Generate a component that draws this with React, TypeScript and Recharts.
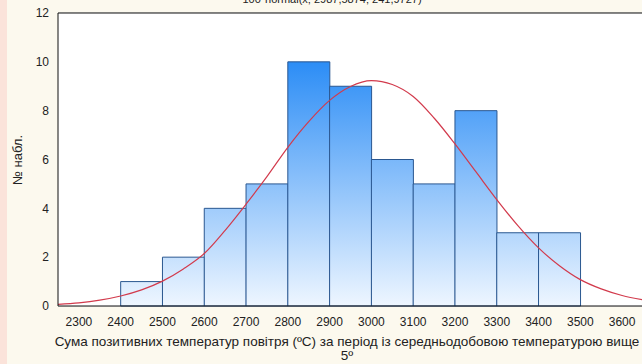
import { ComposedChart, Bar, Line, XAxis, YAxis, CartesianGrid } from "recharts";

// histogram bins (midpoints) and counts
const binMids = [2350, 2450, 2550, 2650, 2750, 2850, 2950, 3050, 3150, 3250, 3350, 3450];
const binCounts = [0, 1, 2, 4, 5, 10, 9, 6, 5, 8, 3, 3];

// fitted normal curve
const curveX = [
  2250, 2300, 2350, 2400, 2450, 2500, 2550, 2600, 2650, 2700, 2750, 2800, 2850, 2900, 2950,
  3000, 3050, 3100, 3150, 3200, 3250, 3300, 3350, 3400, 3450, 3500, 3550, 3600, 3650,
];
const curveY = [
  0.07, 0.13, 0.24, 0.41, 0.66, 1.02, 1.52, 2.15, 3.1, 4.17, 5.3, 6.5, 7.55, 8.42, 8.99,
  9.23, 9.07, 8.58, 7.7, 6.64, 5.5, 4.36, 3.3, 2.38, 1.65, 1.08, 0.7, 0.43, 0.25,
];

const xTicks = [2300, 2400, 2500, 2600, 2700, 2800, 2900, 3000, 3100, 3200, 3300, 3400, 3500, 3600];
const yTicks = [0, 2, 4, 6, 8, 10, 12];
const xDomain = [2250, 3650];

const barData = binMids.map((x, i) => ({ x, count: binCounts[i] }));
const curveData = curveX.map((x, i) => ({ x, curve: curveY[i] }));

const FONT = "'Liberation Sans', Arial, sans-serif";
const CHART_W = 650;
const CHART_H = 364;
const PLOT_LEFT = 58;
const PLOT_TOP = 13;
const PLOT_RIGHT = 643;
const PLOT_BOTTOM = 306;

const tickStyle = { fill: "#222", fontSize: 12, fontFamily: FONT };

export default function App() {
  return (
    <div
      style={{
        position: "absolute",
        left: 0,
        top: 0,
        width: 642,
        height: 364,
        overflow: "hidden",
        background: "#fcf9ee",
        fontFamily: FONT,
      }}
    >
      <div style={{ position: "absolute", left: 0, top: 0, width: 7, height: 364, background: "#fbe3da" }} />

      <div
        style={{
          position: "absolute",
          top: -7,
          left: 0,
          width: 664,
          textAlign: "center",
          fontSize: 11,
          lineHeight: "12px",
          color: "#222",
          whiteSpace: "nowrap",
        }}
      >
        100*normal(x; 2987,5874; 241,9727)
      </div>

      <div style={{ position: "absolute", left: 0, top: 0 }}>
        <ComposedChart
          width={CHART_W}
          height={CHART_H}
          data={barData}
          margin={{ top: PLOT_TOP, right: CHART_W - PLOT_RIGHT, bottom: 0, left: 0 }}
          barCategoryGap={0}
          barGap={0}
        >
          <defs>
            <linearGradient
              id="barFill"
              gradientUnits="userSpaceOnUse"
              x1={0}
              y1={PLOT_TOP}
              x2={0}
              y2={PLOT_BOTTOM}
            >
              <stop offset="0%" stopColor="#0578f4" />
              <stop offset="100%" stopColor="#eef6ff" />
            </linearGradient>
          </defs>
          <rect x={PLOT_LEFT} y={PLOT_TOP} width={PLOT_RIGHT - PLOT_LEFT} height={PLOT_BOTTOM - PLOT_TOP} fill="#fff" />
          <CartesianGrid vertical={false} stroke="#d9d9d9" />
          <XAxis
            xAxisId="main"
            dataKey="x"
            type="number"
            domain={xDomain}
            ticks={xTicks}
            allowDataOverflow
            height={CHART_H - PLOT_BOTTOM}
            tickLine={false}
            tickSize={0}
            tickMargin={11}
            axisLine={{ stroke: "#111" }}
            tick={tickStyle}
            interval={0}
          />
          {/* same scale as main; carries the inward bottom ticks and the curve */}
          <XAxis
            xAxisId="curve"
            dataKey="x"
            type="number"
            domain={xDomain}
            ticks={xTicks}
            allowDataOverflow
            mirror
            height={1}
            tick={false}
            tickSize={4}
            axisLine={false}
            tickLine={{ stroke: "#111" }}
          />
          <XAxis
            xAxisId="top"
            orientation="top"
            dataKey="x"
            type="number"
            domain={xDomain}
            ticks={xTicks}
            allowDataOverflow
            mirror
            height={1}
            tick={false}
            tickSize={4}
            axisLine={{ stroke: "#111" }}
            tickLine={{ stroke: "#111" }}
          />
          <YAxis
            yAxisId="left"
            domain={[0, 12]}
            ticks={yTicks}
            width={PLOT_LEFT}
            tickLine={false}
            tickSize={0}
            tickMargin={9}
            axisLine={{ stroke: "#111" }}
            tick={tickStyle}
            interval={0}
          />
          <YAxis
            yAxisId="right"
            orientation="right"
            domain={[0, 12]}
            ticks={yTicks}
            mirror
            width={1}
            tick={false}
            tickSize={4}
            axisLine={{ stroke: "#111" }}
            tickLine={{ stroke: "#111" }}
          />
          <Bar
            xAxisId="main"
            yAxisId="left"
            dataKey="count"
            fill="url(#barFill)"
            stroke="#2a5790"
            strokeWidth={1}
            isAnimationActive={false}
          />
          <Line
            xAxisId="curve"
            yAxisId="left"
            data={curveData}
            dataKey="curve"
            type="monotone"
            stroke="#d23a4c"
            strokeWidth={1.2}
            dot={false}
            activeDot={false}
            isAnimationActive={false}
          />
        </ComposedChart>
      </div>

      <div
        style={{
          position: "absolute",
          left: 17,
          top: 160,
          transform: "translate(-50%, -50%) rotate(-90deg)",
          fontSize: 13,
          color: "#222",
          whiteSpace: "nowrap",
        }}
      >
        № набл.
      </div>

      <div
        style={{
          position: "absolute",
          left: -53,
          top: 335,
          width: 800,
          textAlign: "center",
          fontSize: 13.5,
          lineHeight: "14px",
          color: "#222",
        }}
      >
        <div style={{ whiteSpace: "nowrap" }}>
          Сума позитивних температур повітря (ºC) за період із середньодобовою температурою вище
        </div>
        <div>5º</div>
      </div>
    </div>
  );
}
